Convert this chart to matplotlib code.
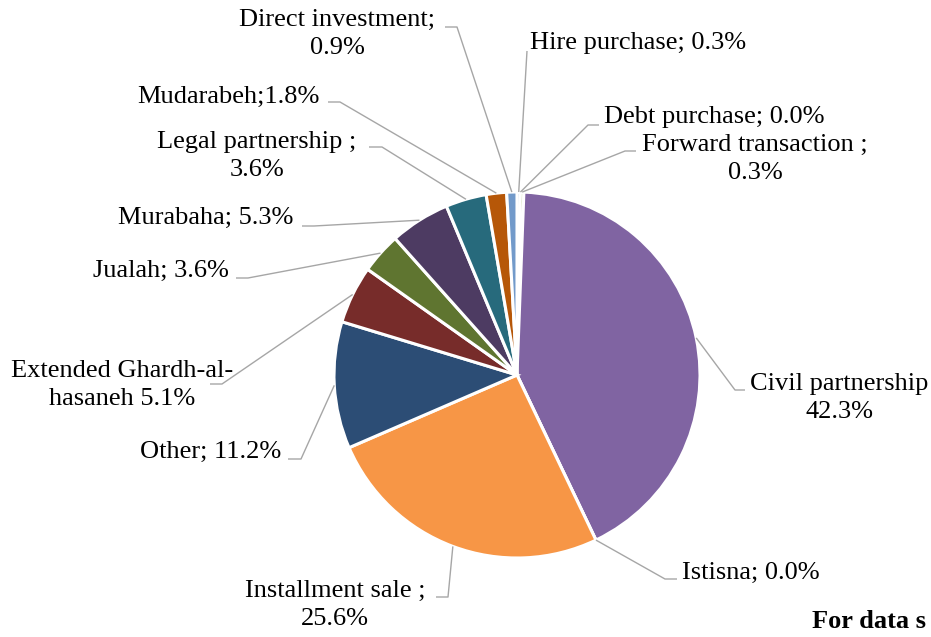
import matplotlib
matplotlib.use("Agg")
import matplotlib.pyplot as plt
import numpy as np

# data (Excel order, clockwise from 12 o'clock)
categories = ["Hire purchase", "Debt purchase", "Forward transaction", "Civil partnership",
              "Istisna", "Installment sale", "Other", "Extended Ghardh-al-hasaneh",
              "Jualah", "Murabaha", "Legal partnership", "Mudarabeh", "Direct investment"]
shares = [0.3, 0.0, 0.3, 42.3, 0.0, 25.6, 11.2, 5.1, 3.6, 5.3, 3.6, 1.8, 0.9]
label_texts = ["Hire purchase; 0.3%", "Debt purchase; 0.0%", "Forward transaction ;\n0.3%",
               "Civil partnership\n42.3%", "Istisna; 0.0%", "Installment sale ;\n25.6%",
               "Other; 11.2%", "Extended Ghardh-al-\nhasaneh 5.1%", "Jualah; 3.6%",
               "Murabaha; 5.3%", "Legal partnership ;\n3.6%", "Mudarabeh;1.8%",
               "Direct investment;\n0.9%"]

colors = ["#4F81BD", "#C0504D", "#9BBB59", "#8064A2", "#4BACC6", "#F79646", "#2C4D75",
          "#772C2A", "#5F7530", "#4D3B62", "#276A7C", "#B65708", "#729ACA"]

# label layout in pixels: text x, text y, ha, elbow x, elbow y, end x
layout = [
    (530, 43, "left", 527, 51, 527),
    (604, 117, "left", 588, 125, 599),
    (755, 159, "center", 625, 151, 636),
    (839, 398, "center", 735, 390, 745),
    (682, 573, "left", 665, 579, 677),
    (335, 605, "center", 448, 597, 436),
    (281, 452, "right", 301, 459, 288),
    (122, 385, "center", 222, 384, 210),
    (229, 271, "right", 248, 278, 236),
    (293, 218, "right", 314, 226, 302),
    (257, 156, "center", 382, 147, 369),
    (320, 97, "right", 340, 102, 328),
    (337, 34, "center", 457, 27, 445),
]

W, H = 931, 637
cx, cy, R = 517, 375, 183

plt.rcParams['font.family'] = ['Liberation Serif', 'DejaVu Serif']
fig = plt.figure(figsize=(W / 100, H / 100), dpi=100)
ax = fig.add_axes([0, 0, 1, 1])

# zero-share slices get a tiny value so matplotlib keeps them
vals = [max(s, 1e-6) for s in shares]
wedges, _ = ax.pie(vals, colors=colors, startangle=-90, counterclock=True,
                   center=(cx, cy), radius=R,
                   wedgeprops=dict(edgecolor="white", linewidth=2.2))

ax.set_xlim(0, W)
ax.set_ylim(H, 0)
ax.set_aspect("auto")
ax.axis("off")

for w, txt, (tx, ty, ha, ex, ey, hx) in zip(wedges, label_texts, layout):
    mid = np.deg2rad((w.theta1 + w.theta2) / 2)
    ax0 = cx + R * np.cos(mid)
    ay0 = cy + R * np.sin(mid)
    ax.plot([ax0, ex, hx], [ay0, ey, ey], color="#A6A6A6", lw=1.0,
            solid_capstyle="butt", zorder=1)
    ax.text(tx, ty, txt, ha=ha, va="center", fontsize=19, linespacing=1.3,
            multialignment="center", color="black")

# source note, cut by the right edge in the original
ax.text(812, 622, "For data s", ha="left", va="center", fontsize=19,
        fontweight="bold", color="black")

fig.savefig("out.png", dpi=100)
